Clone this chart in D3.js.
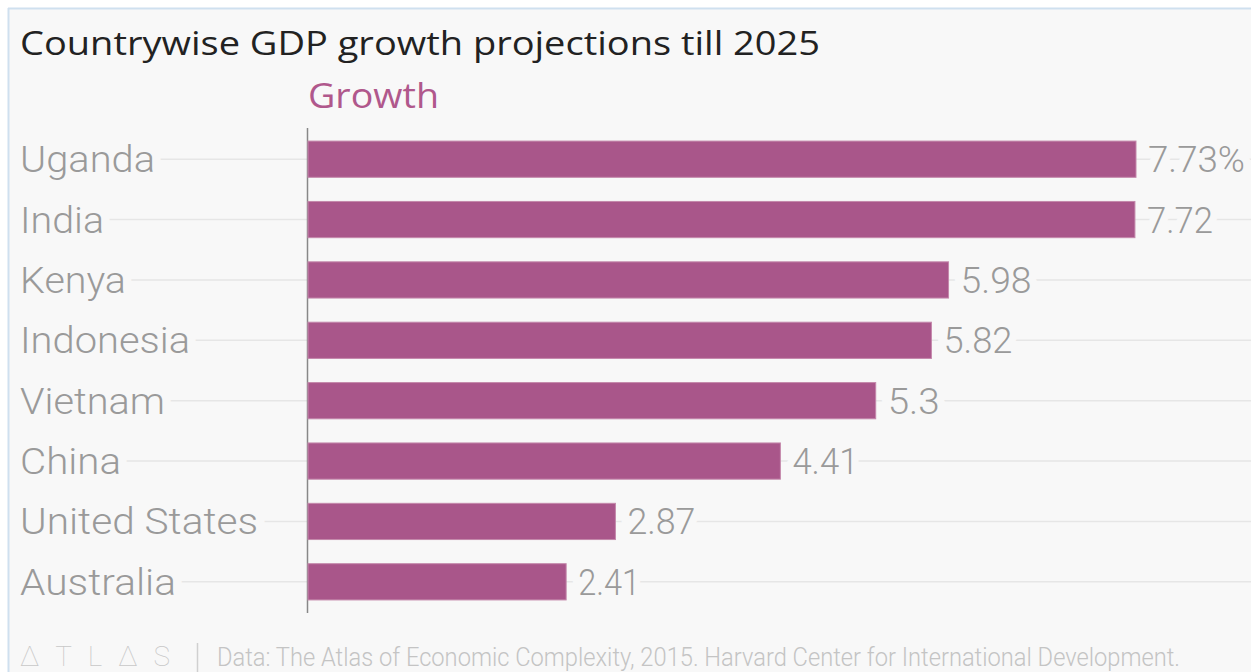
<!DOCTYPE html>
<html><head><meta charset="utf-8">
<script src="https://cdn.jsdelivr.net/npm/d3@7"></script>
<style>
html,body{margin:0;padding:0;background:#fff;}
svg{display:block;}
</style></head>
<body><svg id="c" width="1251" height="672"></svg>
<script>
const countries = ["Uganda","India","Kenya","Indonesia","Vietnam","China","United States","Australia"];
const growth = [7.73,7.72,5.98,5.82,5.3,4.41,2.87,2.41];
const valueLabels = ["7.73%","7.72","5.98","5.82","5.3","4.41","2.87","2.41"];
const title = "Countrywise GDP growth projections till 2025";
const seriesName = "Growth";
const source = "Data: The Atlas of Economic Complexity, 2015. Harvard Center for International Development.";

const svg = d3.select("#c");
const W = 1251, H = 672;
const bg = "#f8f8f8";
svg.append("rect").attr("x",0).attr("y",0).attr("width",W).attr("height",H).attr("fill","#fff");
svg.append("rect").attr("x",9).attr("y",9).attr("width",W-9).attr("height",H-9).attr("fill",bg);

const x0 = 308;
const x = d3.scaleLinear().domain([0, 7.73]).range([x0, 1136]);
const y = d3.scaleBand().domain(countries).range([129, 612]).paddingInner(0.4).paddingOuter(0.2);

const fontCond = "Roboto, 'Liberation Sans', sans-serif";

// gridlines
const g = svg.append("g");
g.selectAll("line.grid").data(countries).join("line")
  .attr("x1",20).attr("x2",W)
  .attr("y1",d=>y(d)+y.bandwidth()/2).attr("y2",d=>y(d)+y.bandwidth()/2)
  .attr("stroke","#e6e6e6").attr("stroke-width",1.5);

// category labels
const labelW = {"Uganda":135,"India":84,"Kenya":106,"Indonesia":170,"Vietnam":145,"China":101,"United States":238,"Australia":156};
g.selectAll("text.cat").data(countries).join("text")
  .attr("x",20).attr("y",d=>y(d)+y.bandwidth()/2+13)
  .attr("font-family",fontCond).attr("font-weight",300).attr("font-size",37)
  .attr("fill","#9a9a9a")
  .attr("textLength",d=>labelW[d]).attr("lengthAdjust","spacingAndGlyphs")
  .attr("stroke",bg).attr("stroke-width",16).attr("paint-order","stroke")
  .text(d=>d);

// axis line
svg.append("line").attr("x1",x0-0.5).attr("x2",x0-0.5).attr("y1",128).attr("y2",613)
  .attr("stroke","#888").attr("stroke-width",1.5);

// value labels (drawn before bars so halo never covers a bar)
const valW = {"7.73%":97,"7.72":66,"5.98":71,"5.82":69,"5.3":52,"4.41":66,"2.87":68,"2.41":62};
svg.selectAll("text.val").data(countries).join("text")
  .attr("x",(d,i)=>x(growth[i])+12).attr("y",d=>y(d)+y.bandwidth()/2+13)
  .attr("font-family",fontCond).attr("font-weight",300).attr("font-size",37)
  .attr("fill","#9a9a9a")
  .attr("textLength",(d,i)=>valW[valueLabels[i]]).attr("lengthAdjust","spacingAndGlyphs")
  .attr("stroke",bg).attr("stroke-width",16).attr("paint-order","stroke")
  .text((d,i)=>valueLabels[i]);

// bars
svg.selectAll("rect.bar").data(countries).join("rect")
  .attr("x",x0).attr("y",d=>y(d))
  .attr("width",(d,i)=>x(growth[i])-x0).attr("height",y.bandwidth())
  .attr("fill","#a9568a").attr("stroke","#c488ab").attr("stroke-width",1);

// border
svg.append("line").attr("x1",8.5).attr("x2",8.5).attr("y1",8).attr("y2",H).attr("stroke","#cfe0ef").attr("stroke-width",2);
svg.append("line").attr("x1",8).attr("x2",W).attr("y1",8.5).attr("y2",8.5).attr("stroke","#cfe0ef").attr("stroke-width",2);

// title
svg.append("text").attr("x",20).attr("y",55)
  .attr("font-family","'Open Sans', sans-serif").attr("font-size",33).attr("fill","#222")
  .attr("textLength",800).attr("lengthAdjust","spacingAndGlyphs")
  .text(title);
svg.append("text").attr("x",308).attr("y",108)
  .attr("font-family","'Open Sans', sans-serif").attr("font-size",34).attr("fill","#b0588c")
  .attr("textLength",131).attr("lengthAdjust","spacingAndGlyphs")
  .text(seriesName);

// footer
svg.append("text").attr("x",20).attr("y",666)
  .attr("font-family",fontCond).attr("font-weight",100).attr("font-size",28).attr("fill","#c8c8c8")
  .attr("textLength",150).attr("lengthAdjust","spacing")
  .text("ΔTLΔS");
svg.append("line").attr("x1",197.5).attr("x2",197.5).attr("y1",643).attr("y2",672)
  .attr("stroke","#d0d0d0").attr("stroke-width",1.5);
svg.append("text").attr("x",217).attr("y",666)
  .attr("font-family",fontCond).attr("font-weight",300).attr("font-size",25).attr("fill","#c4c4c4")
  .attr("textLength",963).attr("lengthAdjust","spacingAndGlyphs")
  .text(source);
</script></body></html>
